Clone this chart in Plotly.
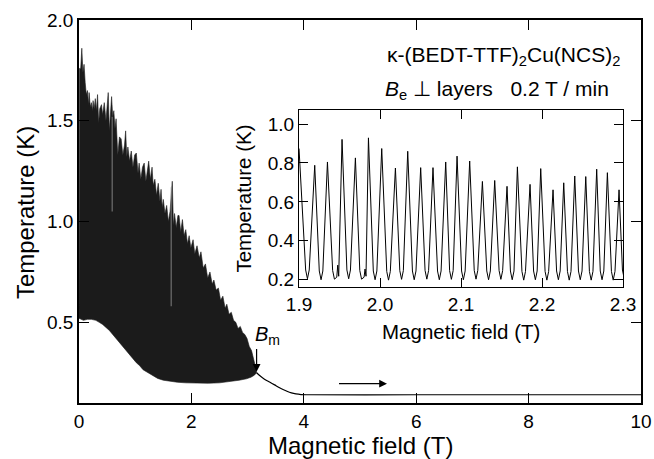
import plotly.graph_objects as go

# ---------------- main panel data ----------------
upper_B = [0.00, 0.00, 0.01, 0.03, 0.05, 0.07, 0.09, 0.11, 0.13, 0.15, 0.17, 0.18, 0.20, 0.22, 0.24, 0.25,
           0.27, 0.29, 0.31, 0.33, 0.35, 0.37, 0.40, 0.42, 0.45, 0.48, 0.52, 0.54, 0.56, 0.58, 0.60, 0.62,
           0.64, 0.66, 0.69, 0.72, 0.75, 0.78, 0.81, 0.83, 0.85, 0.87, 0.90, 0.93, 0.96, 0.99, 1.02, 1.05,
           1.07, 1.10, 1.13, 1.16, 1.19, 1.22, 1.24, 1.27, 1.30, 1.32, 1.35, 1.38, 1.41, 1.44, 1.46, 1.48,
           1.50, 1.53, 1.56, 1.59, 1.62, 1.66, 1.68, 1.70, 1.73, 1.76, 1.78, 1.81, 1.84, 1.87, 1.90, 1.93,
           1.96, 1.99, 2.03, 2.06, 2.10, 2.14, 2.17, 2.21, 2.25, 2.29, 2.33, 2.37, 2.40, 2.44, 2.48, 2.52,
           2.56, 2.60, 2.63, 2.67, 2.71, 2.75, 2.79, 2.83, 2.87, 2.91, 2.95, 2.99, 3.03, 3.07, 3.11, 3.14, 3.16]
upper_T = [0.52, 0.74, 1.76, 1.76, 1.86, 1.74, 1.78, 1.69, 1.63, 1.65, 1.58, 1.64, 1.57, 1.59, 1.55, 1.60,
           1.56, 1.61, 1.55, 1.63, 1.49, 1.56, 1.58, 1.53, 1.59, 1.50, 1.64, 1.45, 1.52, 1.62, 1.52, 1.55,
           1.46, 1.51, 1.33, 1.42, 1.41, 1.33, 1.38, 1.45, 1.32, 1.37, 1.30, 1.35, 1.27, 1.33, 1.34, 1.24,
           1.29, 1.21, 1.27, 1.29, 1.20, 1.27, 1.30, 1.21, 1.27, 1.18, 1.21, 1.13, 1.19, 1.10, 1.16, 1.07,
           1.11, 1.04, 1.08, 1.00, 1.05, 1.20, 0.98, 1.04, 0.97, 1.03, 1.03, 0.95, 1.01, 0.93, 0.96, 0.89,
           0.93, 0.87, 0.91, 0.84, 0.88, 0.82, 0.85, 0.77, 0.79, 0.72, 0.75, 0.69, 0.71, 0.66, 0.67, 0.61,
           0.63, 0.57, 0.59, 0.54, 0.55, 0.51, 0.50, 0.47, 0.48, 0.45, 0.44, 0.42, 0.38, 0.36, 0.32, 0.28, 0.25]

lower_B = [0.00, 0.03, 0.08, 0.15, 0.22, 0.30, 0.36, 0.42, 0.48, 0.54, 0.60, 0.66, 0.72, 0.78, 0.84, 0.90,
           0.96, 1.02, 1.08, 1.14, 1.20, 1.26, 1.32, 1.40, 1.50, 1.60, 1.75, 1.90, 2.10, 2.30, 2.50, 2.70,
           2.85, 2.98, 3.06, 3.12, 3.16]
lower_T = [0.52, 0.515, 0.51, 0.515, 0.515, 0.51, 0.50, 0.49, 0.475, 0.46, 0.44, 0.42, 0.405, 0.385, 0.36, 0.34,
           0.32, 0.30, 0.285, 0.265, 0.255, 0.244, 0.235, 0.222, 0.213, 0.208, 0.203, 0.200, 0.198, 0.198, 0.200, 0.208,
           0.213, 0.220, 0.228, 0.238, 0.25]

# light streaks (gaps between oscillation traces) visible inside the black band
streak_B = [0.59, 1.64]
streak_T_top = [1.52, 1.17]
streak_T_bottom = [1.05, 0.58]

tail_B = [3.16, 3.22, 3.30, 3.39, 3.48, 3.56, 3.63, 3.70, 3.78, 3.86, 3.95, 4.10, 6.0, 8.0, 10.0]
tail_T = [0.25, 0.235, 0.218, 0.204, 0.190, 0.177, 0.167, 0.158, 0.150, 0.145, 0.142, 0.141, 0.141, 0.141, 0.141]

main_xticks = [0, 2, 4, 6, 8, 10]
main_yticks = [0.5, 1.0, 1.5, 2.0]
main_ytick_text = ["0.5", "1.0", "1.5", "2.0"]

# ---------------- inset data ----------------
peak_B = [1.9000, 1.9194, 1.9351, 1.9531, 1.9696, 1.9857, 2.0021, 2.0190, 2.0342, 2.0502, 2.0654,
          2.0811, 2.0951, 2.1107, 2.1264, 2.1416, 2.1568, 2.1696, 2.1852, 2.1984, 2.2136, 2.2268,
          2.2404, 2.2540, 2.2675, 2.2807, 2.2951]
peak_T = [0.874, 0.788, 0.805, 0.921, 0.826, 0.929, 0.874, 0.774, 0.860, 0.776, 0.776,
          0.805, 0.835, 0.810, 0.705, 0.710, 0.680, 0.780, 0.690, 0.771, 0.662, 0.698,
          0.733, 0.730, 0.768, 0.750, 0.662]
trough_B = [1.9104, 1.9272, 1.9437, 1.9613, 1.9772, 1.9939, 2.0105, 2.0266, 2.0422, 2.0578, 2.0732,
            2.0881, 2.1029, 2.1185, 2.1340, 2.1492, 2.1632, 2.1774, 2.1918, 2.2060, 2.2202, 2.2336,
            2.2472, 2.2607, 2.2741, 2.2879, 2.3015]
trough_T = [0.205, 0.200, 0.203, 0.205, 0.203, 0.200, 0.198, 0.202, 0.200, 0.203, 0.200,
            0.202, 0.200, 0.203, 0.200, 0.202, 0.200, 0.198, 0.200, 0.198, 0.200, 0.198,
            0.200, 0.198, 0.200, 0.198, 0.205]
# small glitches on the rising flank of two cycles
glitch_B = [1.9478, 1.9815]
glitch_T = [0.275, 0.255]

inset_xticks = [1.9, 2.0, 2.1, 2.2, 2.3]
inset_xtick_text = ["1.9", "2.0", "2.1", "2.2", "2.3"]
inset_yticks = [0.2, 0.4, 0.6, 0.8, 1.0]
inset_ytick_text = ["0.2", "0.4", "0.6", "0.8", "1.0"]

FONT = "Liberation Sans, Arial, Helvetica, sans-serif"

# rounded trough drawing style (half-width in T and rise of the knee points)
KNEE_DB = 0.0022
KNEE_DT = 0.045

# build inset polyline: peak -> knee -> trough -> knee -> (glitch) -> next peak
ix, iy = [], []
for k in range(len(peak_B)):
    ix.append(peak_B[k]); iy.append(peak_T[k])
    tb, tt = trough_B[k], trough_T[k]
    ix += [tb - KNEE_DB, tb, tb + KNEE_DB]
    iy += [tt + KNEE_DT, tt, tt + KNEE_DT]
    for gb, gt in zip(glitch_B, glitch_T):
        if k + 1 < len(peak_B) and tb < gb < peak_B[k + 1]:
            ix[-1] = gb - 0.0012; iy[-1] = tt + 0.01
            ix += [gb, gb + 0.0012]
            iy += [gt, tt + 0.015]

fig = go.Figure()

poly_x = upper_B + lower_B[::-1]
poly_y = upper_T + lower_T[::-1]
fig.add_trace(go.Scatter(x=poly_x, y=poly_y, mode="lines", fill="toself",
                         fillcolor="#1b1b1b", line=dict(color="#1b1b1b", width=0.6),
                         hoverinfo="skip", showlegend=False, xaxis="x", yaxis="y"))
for b, t1, t0 in zip(streak_B, streak_T_top, streak_T_bottom):
    fig.add_trace(go.Scatter(x=[b, b], y=[t1, t0], mode="lines",
                             line=dict(color="#9a9a9a", width=0.8),
                             hoverinfo="skip", showlegend=False, xaxis="x", yaxis="y"))
fig.add_trace(go.Scatter(x=tail_B, y=tail_T, mode="lines",
                         line=dict(color="black", width=1.2, shape="spline", smoothing=0.6),
                         showlegend=False, xaxis="x", yaxis="y"))

fig.add_trace(go.Scatter(x=ix, y=iy, mode="lines",
                         line=dict(color="black", width=1.0),
                         showlegend=False, xaxis="x2", yaxis="y2"))

axis_common = dict(showgrid=False, zeroline=False, ticks="inside", mirror="ticks",
                   showline=True, linecolor="black", tickcolor="black", automargin=False,
                   tickfont=dict(family=FONT, size=19, color="black"))

fig.update_layout(
    width=654, height=459,
    margin=dict(l=79, r=13, t=20, b=56),
    paper_bgcolor="white", plot_bgcolor="white",
    font=dict(family=FONT, color="black"),
    xaxis=dict(range=[0, 10], tickvals=main_xticks, linewidth=1.6, tickwidth=1.4, ticklen=10,
               **axis_common),
    yaxis=dict(range=[0.1, 2.0], tickvals=main_yticks, ticktext=main_ytick_text,
               linewidth=1.6, tickwidth=1.4, ticklen=10, **axis_common),
    xaxis2=dict(domain=[0.3915, 0.968], anchor="y2", range=[1.9, 2.3], tickvals=inset_xticks,
                ticktext=inset_xtick_text, linewidth=1.2, tickwidth=1.2, ticklen=9,
                **axis_common),
    yaxis2=dict(domain=[0.303, 0.765], anchor="x2", range=[0.163, 1.072], tickvals=inset_yticks,
                ticktext=inset_ytick_text, linewidth=1.2, tickwidth=1.2, ticklen=9,
                **axis_common),
)

annotations = [
    # axis titles
    dict(text="Magnetic field (T)", xref="paper", yref="paper", x=0.5, y=-0.112,
         xanchor="center", yanchor="middle", showarrow=False, font=dict(size=24, family=FONT)),
    dict(text="Temperature (K)", xref="paper", yref="paper", x=-0.096, y=0.496, textangle=-90,
         xanchor="center", yanchor="middle", showarrow=False, font=dict(size=24, family=FONT)),
    dict(text="Magnetic field (T)", xref="paper", yref="paper", x=0.680, y=0.186,
         xanchor="center", yanchor="middle", showarrow=False, font=dict(size=20.5, family=FONT)),
    dict(text="Temperature (K)", xref="paper", yref="paper", x=0.292, y=0.534, textangle=-90,
         xanchor="center", yanchor="middle", showarrow=False, font=dict(size=20.5, family=FONT)),
    # labels
    dict(text="κ-(BEDT-TTF)<sub>2</sub>Cu(NCS)<sub>2</sub>", xref="paper", yref="paper",
         x=0.966, y=0.905, xanchor="right", yanchor="middle", showarrow=False,
         font=dict(size=21, family=FONT, color="black")),
    dict(text="<i>B</i><sub>e</sub> \u22a5 layers\u00a0\u00a0\u00a00.2 T / min", xref="paper", yref="paper",
         x=0.947, y=0.818, xanchor="right", yanchor="middle", showarrow=False,
         font=dict(size=21, family=FONT, color="black")),
    dict(text="<i>B</i><sub>m</sub>", x=3.35, y=0.435, xref="x", yref="y",
         xanchor="center", yanchor="middle", showarrow=False,
         font=dict(size=20, family=FONT, color="black")),
    # arrows
    dict(x=3.16, y=0.255, ax=3.16, ay=0.375, xref="x", yref="y", axref="x", ayref="y",
         text="", showarrow=True, arrowhead=2, arrowsize=1.3, arrowwidth=1.2, arrowcolor="black"),
    dict(x=5.48, y=0.196, ax=4.60, ay=0.196, xref="x", yref="y", axref="x", ayref="y",
         text="", showarrow=True, arrowhead=2, arrowsize=1.3, arrowwidth=1.2, arrowcolor="black"),
]
fig.update_layout(annotations=annotations)

fig.write_html("out.html", config={"displayModeBar": False},
               post_script="document.body.style.margin='0';document.body.style.overflow='hidden';")
